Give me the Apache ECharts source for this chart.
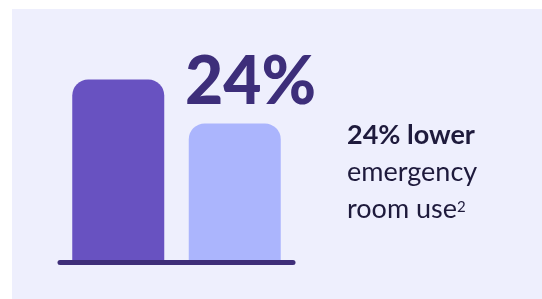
<!DOCTYPE html>
<html>
<head>
<meta charset="utf-8">
<script src="https://cdn.jsdelivr.net/npm/echarts@6/dist/echarts.min.js"></script>
<style>
  html, body { margin: 0; padding: 0; background: #ffffff; }
  #main { width: 542px; height: 299px; }
</style>
</head>
<body>
<div id="main"></div>
<script>
// data
var categories = ['Before', 'After'];
var values = [100, 76];
var barColors = ['#6852c1', '#abb5fd'];
var bigLabel = '24%';
var headLine = '24% lower';
var bodyLines = ['emergency', 'room use'];
var footnote = '2';

var chart = echarts.init(document.getElementById('main'), null, { renderer: 'canvas' });

var font = 'Lato, "Noto Sans", sans-serif';

var option = {
  backgroundColor: '#ffffff',
  animation: false,
  grid: {
    left: 60,
    right: 249,
    top: 79.5,
    bottom: 36.5
  },
  xAxis: {
    type: 'category',
    data: categories,
    z: 10,
    axisLine: {
      show: true,
      lineStyle: { color: '#3e2e79', width: 5, cap: 'round' }
    },
    axisTick: { show: false },
    axisLabel: { show: false },
    splitLine: { show: false }
  },
  yAxis: {
    type: 'value',
    min: 0,
    max: 100,
    show: false
  },
  graphic: [
    {
      type: 'rect',
      z: -10,
      silent: true,
      shape: { x: 12, y: 9, width: 530, height: 290 },
      style: { fill: '#eeeffd' }
    },
    {
      type: 'text',
      left: 185,
      top: 50,
      style: {
        text: bigLabel,
        font: '900 66px ' + font,
        fill: '#3d2e7a'
      }
    },
    {
      type: 'text',
      left: 347,
      top: 122,
      style: {
        text: headLine,
        font: 'bold 27px ' + font,
        fill: '#1e1a3c'
      }
    },
    {
      type: 'text',
      left: 347,
      top: 159,
      style: {
        text: bodyLines[0],
        font: '27px ' + font,
        fill: '#1e1a3c'
      }
    },
    {
      type: 'text',
      left: 347,
      top: 196,
      style: {
        text: bodyLines[1],
        font: '27px ' + font,
        fill: '#1e1a3c'
      }
    },
    {
      type: 'text',
      left: 457,
      top: 200,
      style: {
        text: footnote,
        font: '15px ' + font,
        fill: '#1e1a3c'
      }
    }
  ],
  series: [{
    type: 'bar',
    barWidth: 92,
    data: values.map(function (v, i) {
      return {
        value: v,
        itemStyle: { color: barColors[i], borderRadius: [16, 16, 0, 0] }
      };
    })
  }]
};

chart.setOption(option);
</script>
</body>
</html>
